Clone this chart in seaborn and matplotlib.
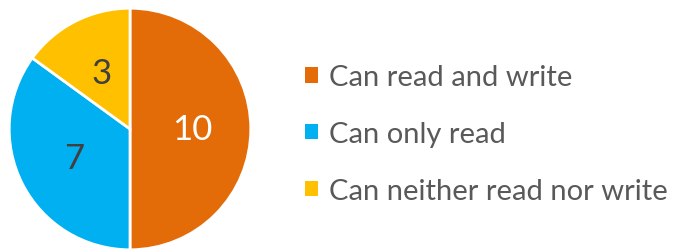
import matplotlib
matplotlib.use("Agg")
import matplotlib.pyplot as plt
from matplotlib.patches import Patch
import seaborn as sns

# data
categories = ["Can read and write", "Can only read", "Can neither read nor write"]
counts = [10, 7, 3]
colors = ["#E36C09", "#00B0F0", "#FFC000"]
label_colors = ["white", "#404040", "#404040"]

sns.set_theme(style="white")
plt.rcParams['font.family'] = ['Lato', 'DejaVu Sans']

fig = plt.figure(figsize=(6.75, 2.51), dpi=100)
ax = fig.add_axes([8 / 675, -1 / 251, 244 / 675, 244 / 251])

wedges, texts, autotexts = ax.pie(
    counts,
    colors=sns.color_palette(colors),
    startangle=90,
    counterclock=False,
    autopct=lambda p: f"{round(p * sum(counts) / 100):d}",
    pctdistance=0.52,
    wedgeprops={'edgecolor': 'white', 'linewidth': 2},
    textprops={'fontsize': 25},
    radius=1,
)
for t, c in zip(autotexts, label_colors):
    t.set_color(c)
ax.set_xlim(-1.01, 1.01)
ax.set_ylim(-1.01, 1.01)
ax.set_aspect('equal')

handles = [Patch(facecolor=c, edgecolor='none') for c in colors]
leg = fig.legend(handles, categories,
                 loc='center left', bbox_to_anchor=(305 / 675, 116 / 251),
                 frameon=False, fontsize=21,
                 handlelength=0.43, handleheight=0.43, handletextpad=0.4,
                 labelspacing=1.05, borderaxespad=0, borderpad=0)
for t in leg.get_texts():
    t.set_color("#595959")

fig.savefig("out.png", dpi=100)
